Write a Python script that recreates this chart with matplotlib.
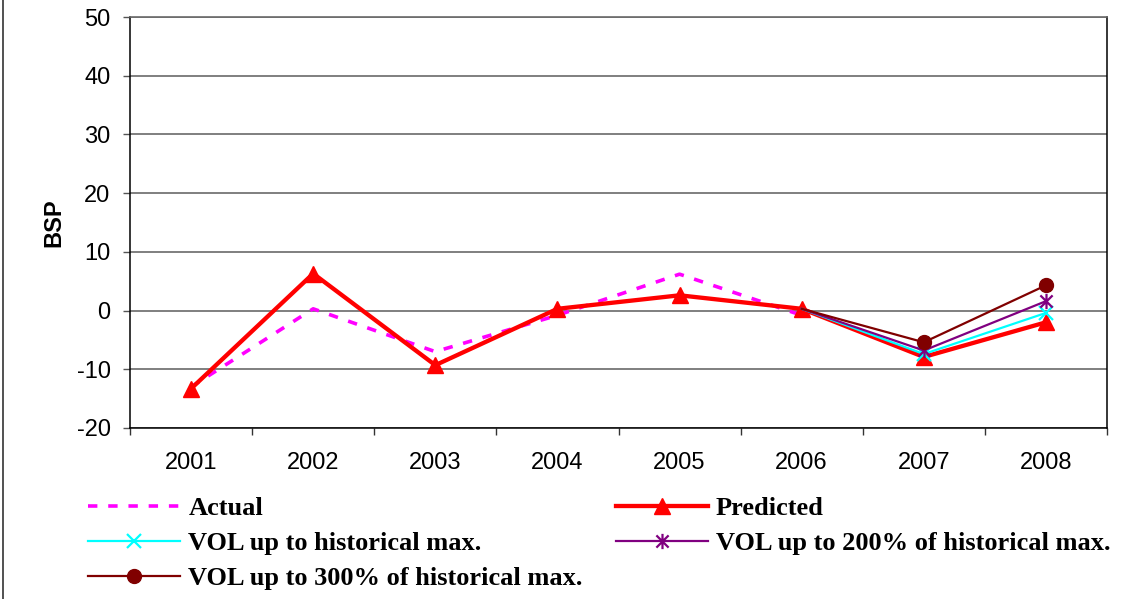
import numpy as np
import matplotlib
matplotlib.use("Agg")
import matplotlib.pyplot as plt
from matplotlib.lines import Line2D
from matplotlib.path import Path
from matplotlib.font_manager import FontProperties

# Years on the category axis
years = ["2001", "2002", "2003", "2004", "2005", "2006", "2007", "2008"]

# Series values (BSP)
actual = [-13.0, 0.3, -7.0, -0.8, 6.2, -0.8]
predicted = [-13.3, 6.3, -9.3, 0.3, 2.6, 0.3, -7.9, -2.0]
vol_hist = [0.3, -7.4, -0.4]
vol_200 = [0.3, -6.8, 1.6]
vol_300 = [0.3, -5.4, 4.3]

y_ticks = [-20, -10, 0, 10, 20, 30, 40, 50]

x_all = np.arange(len(years))
x_actual = x_all[:len(actual)]
x_vol = x_all[5:]

# asterisk marker: an "x" with a vertical bar through it
star_path = Path(
    [(-1, -1), (1, 1), (-1, 1), (1, -1), (0, -1.25), (0, 1.25)],
    [Path.MOVETO, Path.LINETO, Path.MOVETO, Path.LINETO, Path.MOVETO, Path.LINETO],
)

fig = plt.figure(figsize=(11.27, 5.99), dpi=100)
ax = fig.add_axes([130 / 1127, 1 - 428 / 599, 977 / 1127, 411 / 599])

ax.plot(x_actual, actual, color="#FF00FF", lw=2.6, dashes=(2.6, 3.0),
        label="Actual", zorder=3)
ax.plot(x_all, predicted, color="#FF0000", lw=3.1, marker="^", ms=11,
        label="Predicted", zorder=4)
ax.plot(x_vol, vol_hist, color="#00FFFF", lw=1.6, marker="x", ms=9.5, mew=1.6,
        markevery=[1, 2], label="VOL up to historical max.", zorder=5)
ax.plot(x_vol, vol_200, color="#800080", lw=1.6, marker=star_path, ms=11, mew=1.6,
        markevery=[1, 2], label="VOL up to 200% of historical max.", zorder=6)
ax.plot(x_vol, vol_300, color="#800000", lw=1.6, marker="o", ms=10,
        markevery=[1, 2], label="VOL up to 300% of historical max.", zorder=7)

ax.set_xlim(-0.5, len(years) - 0.5)
ax.set_ylim(-20, 50)
ax.set_yticks(y_ticks)
ax.set_yticklabels([str(v) for v in y_ticks])

# category ticks sit between years, labels at the year centres
ax.set_xticks(np.arange(-0.5, len(years), 1.0))
ax.set_xticklabels([])
ax.set_xticks(x_all, minor=True)
ax.set_xticklabels(years, minor=True)
ax.tick_params(axis="x", which="major", direction="out", length=5, width=1.0,
               color="#333333")
ax.tick_params(axis="x", which="minor", length=0, pad=17)
ax.tick_params(axis="y", direction="out", length=5, width=1.0, color="#555555",
               pad=9)

tick_font = FontProperties(family="Liberation Sans", size=17)
for lbl in ax.get_xticklabels(minor=True) + ax.get_yticklabels():
    lbl.set_fontproperties(tick_font)

ax.yaxis.grid(True, color="#6a6a6a", lw=1.2)
ax.set_axisbelow(True)
for side in ("left", "bottom", "right"):
    ax.spines[side].set_color("black")
    ax.spines[side].set_linewidth(1.1)
ax.spines["top"].set_color("#6a6a6a")
ax.spines["top"].set_linewidth(1.2)

ax.set_ylabel("BSP", fontproperties=FontProperties(family="Liberation Sans",
                                                   weight="bold", size=17))
ax.yaxis.set_label_coords(-0.066, 0.5)

# legend below the plot, two columns
h, l = ax.get_legend_handles_labels()
order = [0, 2, 4, 1, 3]
fig.legend([h[i] for i in order], [l[i] for i in order],
           loc="upper left", bbox_to_anchor=(88 / 1127, 1 - 497 / 599),
           ncol=2, frameon=False, borderpad=0, borderaxespad=0,
           handlelength=3.5, handletextpad=0.3, columnspacing=1.25,
           labelspacing=0.43,
           prop=FontProperties(family="Liberation Serif", weight="bold", size=19))

# thin border line along the left edge of the figure
fig.add_artist(Line2D([3.5 / 1127, 3.5 / 1127], [0, 1], transform=fig.transFigure,
                      color="#333333", lw=1.2))

fig.savefig("out.png", dpi=100)
